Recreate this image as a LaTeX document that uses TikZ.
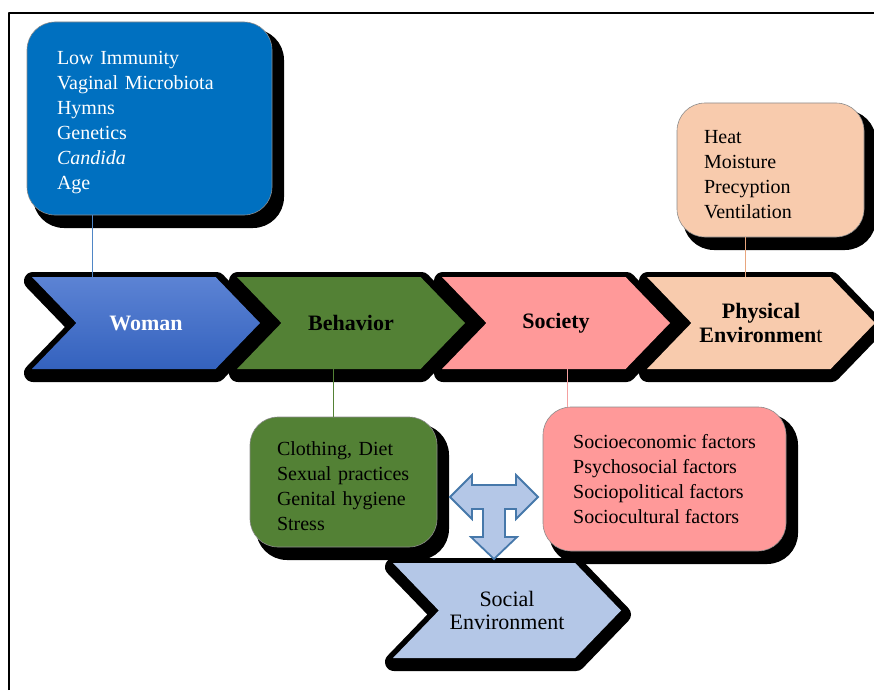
\documentclass[tikz,border=0pt]{standalone}
\usepackage{fontspec}
\setmainfont{Liberation Serif}
\usepackage{tikz}
\usetikzlibrary{shapes.symbols, shadows}
\definecolor{boxblue}{RGB}{0,112,192}
\definecolor{womantop}{RGB}{92,131,212}
\definecolor{womanbot}{RGB}{52,98,190}
\definecolor{behavgreen}{RGB}{83,129,53}
\definecolor{socpink}{RGB}{255,153,153}
\definecolor{physpeach}{RGB}{248,203,173}
\definecolor{socblue}{RGB}{180,199,231}
\definecolor{tedge}{RGB}{70,120,170}
\definecolor{wline}{RGB}{79,134,198}
\definecolor{pline}{RGB}{232,166,126}
\definecolor{sline}{RGB}{244,160,160}
\tikzstyle{chev} = [signal, signal from=west, signal to=east, signal pointer angle=92,
  minimum width=228pt, minimum height=92pt, inner sep=0pt, align=center,
  font=\fontsize{22}{24}\selectfont\bfseries,
  general shadow={shadow xshift=1pt, shadow yshift=-4pt, fill=black, draw=black, line width=18pt, line join=round}]
\tikzstyle{infobox} = [rectangle, rounded corners=28pt, draw=black!45, line width=0.6pt,
  align=left, inner ysep=0pt, font=\fontsize{20}{25}\selectfont,
  execute at begin node={\rule{0pt}{22pt}},
  general shadow={shadow xshift=9pt, shadow yshift=-10pt, fill=black, draw=black, line width=6pt}]
\tikzstyle{link} = [line width=1pt]

\begin{document}
\begin{tikzpicture}[x={(1pt,0pt)}, y={(0pt,-1pt)}, line join=round]
      \useasboundingbox (0,0) rectangle (874,690);
      \clip (0,0) rectangle (874,690);
      \draw[line width=2pt] (9,690) -- (9,13) -- (874,13);
      % factor boxes
      \node[infobox, fill=boxblue, text=white, minimum width=245pt, minimum height=193pt, text width=185pt, inner xsep=30pt] (wbox) at (149.5,118.5) {Low Immunity\\Vaginal Microbiota\\Hymns\\Genetics\\\textit{Candida}\\Age};
      \node[infobox, fill=physpeach, minimum width=187pt, minimum height=134pt, text width=133pt, inner xsep=27pt] (pbox) at (770.5,170) {Heat\\Moisture\\Precyption\\Ventilation};
      \node[infobox, fill=behavgreen, minimum width=187pt, minimum height=130pt, text width=133pt, inner xsep=27pt] (bbox) at (343.5,482) {Clothing, Diet\\Sexual practices\\Genital hygiene\\Stress};
      \node[infobox, fill=socpink, minimum width=243pt, minimum height=144pt] (sbox) at (664.5,479) {Socioeconomic factors\\Psychosocial factors\\Sociopolitical factors\\Sociocultural factors};
      % chevrons
      \node[chev, top color=womantop, bottom color=womanbot, text=white] (woman) at (146,323) {Woman};
      \node[chev, fill=behavgreen] (behavior) at (351,323) {Behavior};
      \node[chev, fill=socpink] (society) at (556,323) {Society};
      \node[chev, fill=physpeach] (physical) at (761,323) {Physical\\Environmen\textmd{t}};
      \node[chev, fill=socblue, minimum height=95pt, font=\fontsize{22}{23.5}\selectfont] (socenv) at (507,610.5) {Social\\Environment};
      % links
      \coordinate (wfoot) at ([xshift=66pt]wbox.south west);
      \coordinate (bfoot) at ([xshift=84pt]bbox.north west);
      \coordinate (sfoot) at ([xshift=25pt]sbox.north west);
      \coordinate (pfoot) at ([xshift=69pt]pbox.south west);
      \draw[link, wline] (wfoot) -- (wfoot |- woman.north);
      \draw[link, behavgreen] (bfoot) -- (bfoot |- behavior.south);
      \draw[link, sline] (sfoot) -- (sfoot |- society.south);
      \draw[link, pline] (pfoot) -- (pfoot |- physical.north);
      % three-way arrow
      \draw[fill=socblue, draw=tedge, line width=1.8pt, line join=miter] (450,497) -- (472,475) -- (472,485) -- (516,485) -- (516,475) -- (538,497) -- (516,519) -- (516,509) -- (505,509) -- (505,537) -- (517,537) -- (494,559) -- (471,537) -- (483,537) -- (483,509) -- (472,509) -- (472,519) -- cycle;
\end{tikzpicture}
\end{document}
